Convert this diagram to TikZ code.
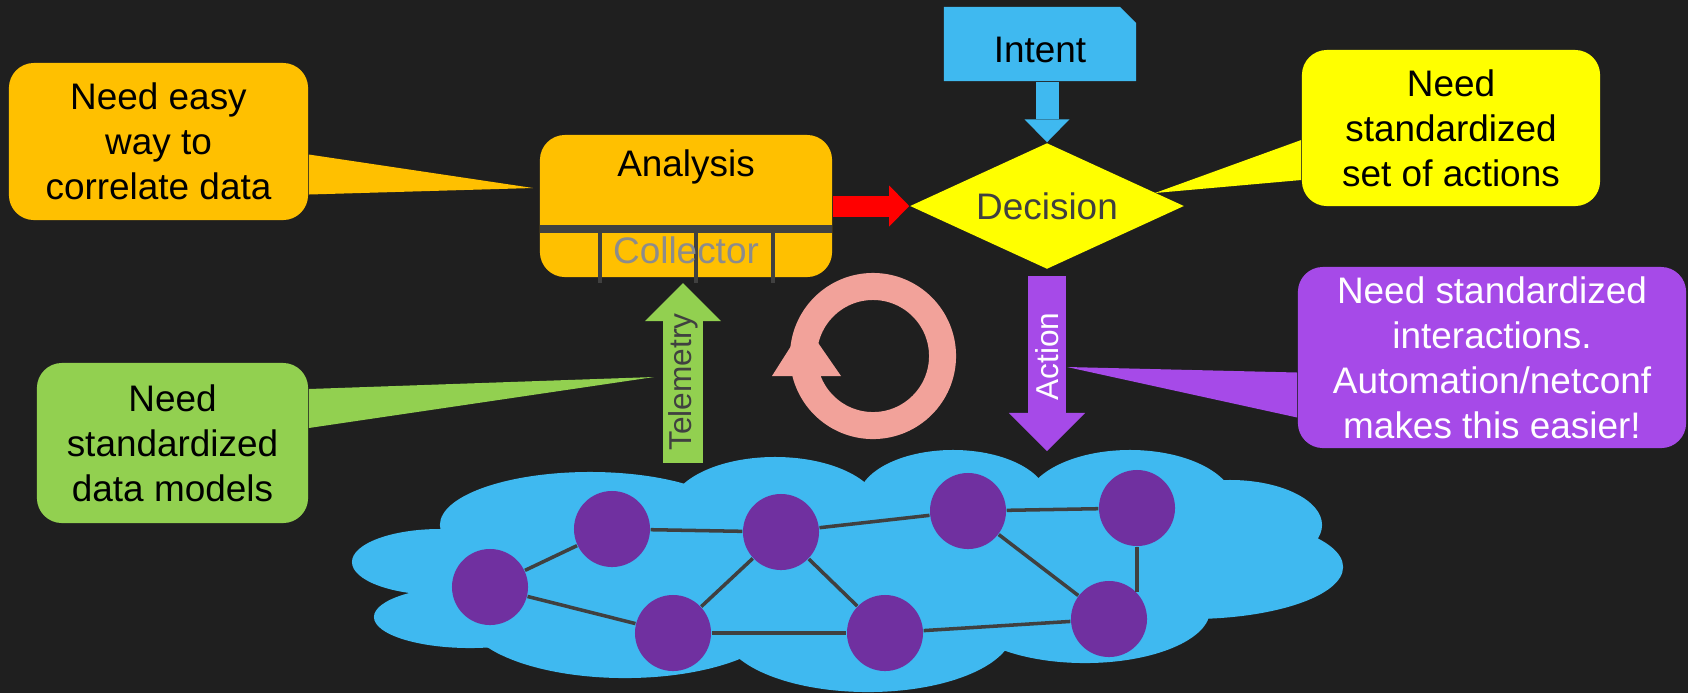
\documentclass[tikz,border=0pt]{standalone}
\usepackage{fontspec}
\setmainfont{Liberation Sans}
\usetikzlibrary{calc,arrows.meta,shapes.geometric,shapes.misc}
\definecolor{bgdark}{HTML}{1F1F1F}
\definecolor{anorange}{HTML}{FFC000}
\definecolor{decyellow}{HTML}{FFFF00}
\definecolor{telegreen}{HTML}{92D050}
\definecolor{actpurple}{HTML}{A64AE8}
\definecolor{nodepurple}{HTML}{7030A0}
\definecolor{skyblue}{HTML}{3FB9F0}
\definecolor{looppink}{HTML}{F2A29A}
\definecolor{darkline}{HTML}{404040}
\definecolor{colgray}{HTML}{8C8C8C}
\def\callouttip[#1](#2)(#3:#4)(#5){\fill[#1] ($(#2)+(0,#3)$) -- (#5) -- ($(#2)+(0,#4)$) -- cycle;}

\tikzset{
	callout/.style={rounded corners=0.25cm, inner sep=0pt, align=center, text=black},
	router/.style={circle, fill=nodepurple, minimum size=0.76cm, inner sep=0pt},
	link/.style={draw=darkline, line width=1pt},
	flowarrow/.style={draw=red, line width=0.21cm, -{Triangle[length=0.2cm, width=0.41cm, line width=0pt]}},
	intentarrow/.style={draw=skyblue, line width=0.23cm, -{Triangle[length=0.23cm, width=0.45cm, line width=0pt]}},
	telearrow/.style={draw=telegreen, line width=0.39cm, -{Triangle[length=0.38cm, width=0.76cm, line width=0pt]}},
	actarrow/.style={draw=actpurple, line width=0.38cm, -{Triangle[length=0.38cm, width=0.76cm, line width=0pt]}},
	arrowtext/.style={rotate=90, inner sep=0pt, font=\fontsize{9}{11}\selectfont}
}

\begin{document}
\begin{tikzpicture}[x=0.01cm, y=-0.01cm, font=\fontsize{10.5}{12.8}\selectfont]
			%%%%% START %%%%%
			
			\useasboundingbox (0,0) rectangle (1688,693);
			\fill[bgdark] (0,0) rectangle (1688,693);
			
			% network cloud
			\fill[skyblue] (440,562) ellipse[x radius=0.88cm, y radius=0.33cm];
			\fill[skyblue] (470,617) ellipse[x radius=0.96cm, y radius=0.31cm];
			\fill[skyblue] (590,525) ellipse[x radius=1.50cm, y radius=0.53cm];
			\fill[skyblue] (775,510) ellipse[x radius=1.05cm, y radius=0.53cm];
			\fill[skyblue] (953,500) ellipse[x radius=0.95cm, y radius=0.50cm];
			\fill[skyblue] (1130,505) ellipse[x radius=1.05cm, y radius=0.55cm];
			\fill[skyblue] (1230,525) ellipse[x radius=0.92cm, y radius=0.45cm];
			\fill[skyblue] (1190,567) ellipse[x radius=1.53cm, y radius=0.52cm];
			\fill[skyblue] (1085,610) ellipse[x radius=1.25cm, y radius=0.53cm];
			\fill[skyblue] (868,630) ellipse[x radius=1.45cm, y radius=0.62cm];
			\fill[skyblue] (625,615) ellipse[x radius=1.60cm, y radius=0.63cm];
			\fill[skyblue] (850,570) ellipse[x radius=3.80cm, y radius=0.75cm];
			
			\node[router] (r1) at (490,587) {};
			\node[router] (r2) at (612,529) {};
			\node[router] (r3) at (781,532) {};
			\node[router] (r4) at (968,511) {};
			\node[router] (r5) at (1137,508) {};
			\node[router] (r6) at (673,633) {};
			\node[router] (r7) at (885,633) {};
			\node[router] (r8) at (1109,619) {};
			
			\draw[link] (r1) -- (r2);
			\draw[link] (r2) -- (r3);
			\draw[link] (r3) -- (r4);
			\draw[link] (r4) -- (r5);
			\draw[link] (r1) -- (r6);
			\draw[link] (r6) -- (r7);
			\draw[link] (r7) -- (r8);
			\draw[link] (r3) -- (r6);
			\draw[link] (r3) -- (r7);
			\draw[link] (r4) -- (r8);
			\draw[link] (r5.south) -- (r5.south |- r8.north east);
			
			% analysis and collector
			\node[fill=anorange, rounded corners=0.25cm, minimum width=2.92cm, minimum height=1.42cm, inner sep=0pt] (analysis) at (686,206) {};
			\fill[darkline] (540,225) rectangle (832,233);
			\draw[darkline, line width=0.04cm] (600,233) -- (600,283);
			\draw[darkline, line width=0.04cm] (696,233) -- (696,283);
			\draw[darkline, line width=0.04cm] (773,233) -- (773,283);
			\node[anchor=base, inner sep=0pt] (analysislbl) at (686,176) {Analysis};
			\node[anchor=base, inner sep=0pt, text=colgray] (collectorlbl) at (686,263) {Collector};
			
			% intent and decision
			\node[chamfered rectangle, chamfered rectangle corners=north east, chamfered rectangle xsep=0.08cm, chamfered rectangle ysep=0.08cm, fill=skyblue, minimum width=1.92cm, minimum height=0.74cm, inner sep=0pt, text height=0.36cm, text depth=0pt] (intent) at (1040,44) {Intent};
			\node[diamond, aspect=2.17, fill=decyellow, minimum width=2.74cm, minimum height=1.26cm, inner sep=0pt, text=darkline] (decision) at (1047,206) {Decision};
			
			\draw[intentarrow] (intent.south -| decision.north) -- (decision.north);
			\draw[flowarrow] (analysis.east) -- (decision.west);
			
			\coordinate (telefoot) at (683,463);
			\coordinate (collectorfoot) at (683,283);
			\draw[telearrow] (telefoot) -- (collectorfoot) node[arrowtext, pos=0.45, text=darkline] (telemetrylbl) {Telemetry};
			
			\coordinate (actfoot) at (1047,451);
			\draw[actarrow] ($(decision.south)+(0,6)$) -- (actfoot) node[arrowtext, pos=0.46, text=white] (actionlbl) {Action};
			
			% loop
			\draw[looppink, line width=0.27cm] (873,356) circle[radius=0.695cm];
			\fill[looppink] (772,376) -- (841,376) -- (805,324) -- cycle;
			
			% callouts
			\node[callout, fill=anorange, minimum width=2.99cm, minimum height=1.57cm] (easynote) at (158.5,141.5) {Need easy\\way to\\correlate data};
			\coordinate (easytip) at (533,188);
			\callouttip[anorange](easynote.east)(13:53)(easytip)
			
			\node[callout, fill=decyellow, minimum width=2.98cm, minimum height=1.56cm] (setnote) at (1451,128) {Need\\standardized\\set of actions};
			\coordinate (settip) at (1155,193);
			\callouttip[decyellow](setnote.west)(12:52)(settip)
			
			\node[callout, fill=telegreen, minimum width=2.71cm, minimum height=1.60cm] (modelnote) at (172.5,443) {Need\\standardized\\data models};
			\coordinate (modeltip) at (654,377);
			\callouttip[telegreen](modelnote.east)(-54:-15)(modeltip)
			
			\node[callout, fill=actpurple, text=white, minimum width=3.88cm, minimum height=1.81cm] (ifacenote) at (1492,357.5) {Need standardized\\interactions.\\Automation/netconf\\makes this easier!};
			\coordinate (ifacetip) at (1067,367);
			\callouttip[actpurple](ifacenote.west)(15:60)(ifacetip)
			
			%%%%% END %%%%%
\end{tikzpicture}
\end{document}
